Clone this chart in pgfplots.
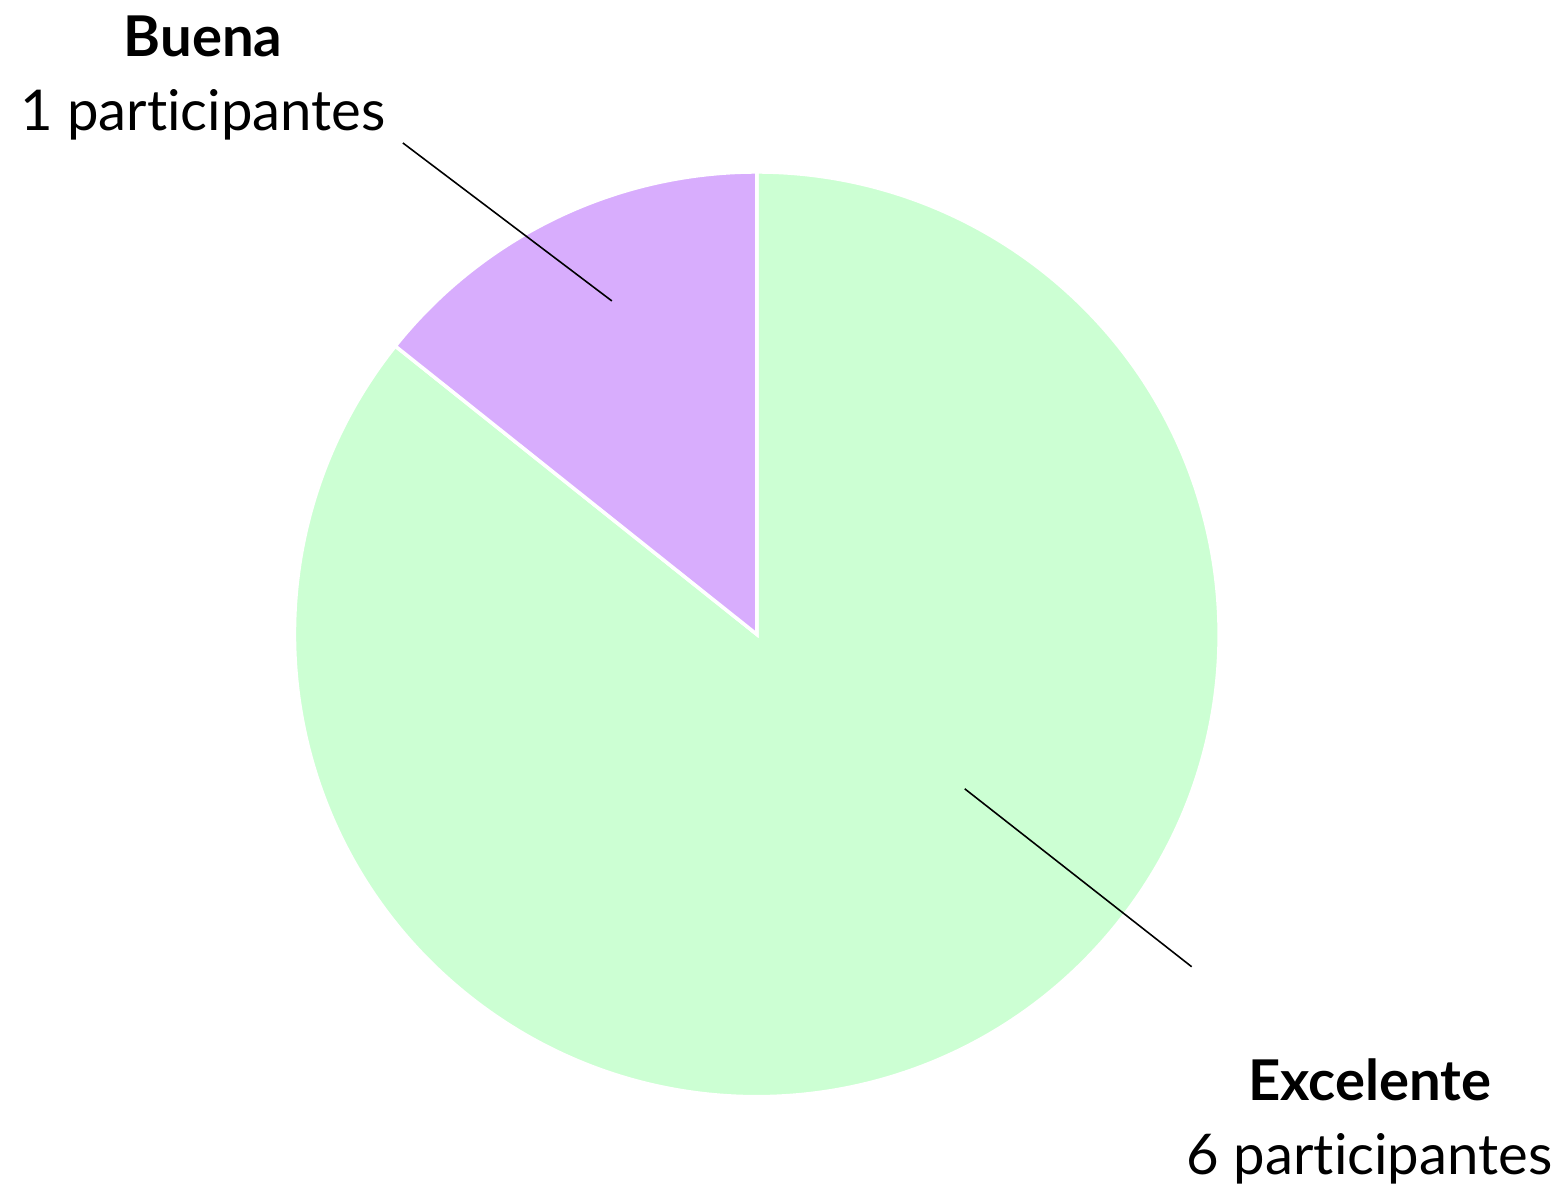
\documentclass[border=0pt]{standalone}
\usepackage{pgfplots}
\usepackage{pgfplotstable}
\pgfplotsset{compat=1.18}
\usepackage{fontspec}
\setmainfont{Lato}[Ligatures={NoCommon}]
\definecolor{greenc}{RGB}{204,255,211}
\definecolor{purplec}{RGB}{216,173,253}
\pgfplotstableread{
label value
Buena 1
Excelente 6
}\piedata
\pgfplotstablegetelem{0}{value}\of\piedata \let\vA\pgfplotsretval
\pgfplotstablegetelem{1}{value}\of\piedata \let\vB\pgfplotsretval
\pgfmathsetmacro\total{\vA+\vB}
\pgfmathsetmacro\angA{360*\vA/\total}
\pgfmathsetmacro\angEnd{90+\angA}
\begin{document}
\begin{tikzpicture}
\begin{axis}[
  width=15.64cm, height=11.84cm, scale only axis,
  xmin=0, xmax=1564, ymin=0, ymax=1184,
  hide axis, clip=false]
\path (axis cs:0,0) rectangle (axis cs:1564,1184);
\fill[greenc, draw=white, line width=1pt, line join=miter]
  (axis cs:757,549.5) -- ++(\angEnd:4.625cm) arc[start angle=\angEnd, end angle=450, radius=4.625cm] -- cycle;
\fill[purplec, draw=white, line width=1pt, line join=miter]
  (axis cs:757,549.5) -- ++(90:4.625cm) arc[start angle=90, end angle=\angEnd, radius=4.625cm] -- cycle;
\draw[black, line width=0.45pt] (axis cs:403,1041) -- (axis cs:612,883);
\draw[black, line width=0.45pt] (axis cs:965,395) -- (axis cs:1192,217);
\node[anchor=base, font=\fontsize{16}{19}\selectfont\bfseries] at (axis cs:203,1127) {Buena};
\node[anchor=base, font=\fontsize{16}{19}\selectfont] at (axis cs:203,1053) {1 participantes};
\node[anchor=base, font=\fontsize{16}{19}\selectfont\bfseries] at (axis cs:1370,83) {Excelente};
\node[anchor=base, font=\fontsize{16}{19}\selectfont] at (axis cs:1370,9) {6 participantes};
\end{axis}
\end{tikzpicture}
\end{document}
